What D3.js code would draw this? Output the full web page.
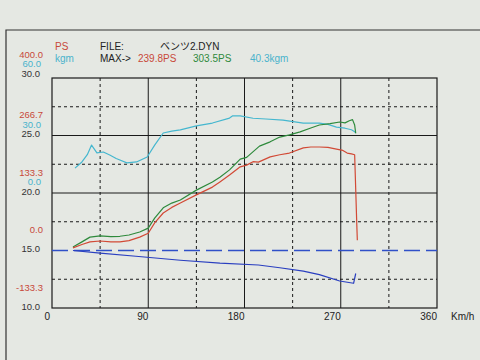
<!DOCTYPE html>
<html><head><meta charset="utf-8">
<script src="https://cdn.jsdelivr.net/npm/d3@7"></script>
<style>body{margin:0;background:#e5e8e3;}svg{display:block;font-family:"Liberation Sans",Arial,"Noto Sans CJK JP",sans-serif;}</style>
</head><body><div id="c"></div>
<script>
// ---- data ----
const psTicks = [400.0, 266.7, 133.3, 0.0, -133.3];
const kgmTicks = [60.0, 30.0, 0.0];
const afrTicks = [30.0, 25.0, 20.0, 15.0, 10.0];
const speedTicks = [0, 90, 180, 270, 360];
const dashedSpeed = [45, 135, 225, 315];
const dashedAfr = [27.5, 22.5, 17.5, 12.5];
const solidAfr = [25, 20];
const afrRef = 15.0;

// red: PS (wheel)
const redSpeed = [19.6, 28, 35.5, 45, 55, 63.5, 72, 82, 90, 96, 104, 112, 120, 135, 150, 157, 166, 176, 182, 188, 193, 204, 213, 222, 235, 242, 250, 258, 266, 272, 276, 280, 283, 285, 285.5];
const redPS    = [6, 14, 20, 22, 20, 20, 23, 31, 40, 64, 87, 100, 110, 129, 147, 159, 175, 194, 198, 206, 205, 217, 222, 226, 238, 240, 240, 239, 235, 232, 226, 224, 222, 60, 24];
// green: PS (engine)
const greenSpeed = [19.6, 28, 35.5, 45, 55, 63.5, 72, 82, 90, 96, 104, 112, 120, 135, 150, 157, 166, 176, 182, 194, 204, 213, 222, 232, 242, 250, 260, 269, 274, 278, 281, 283, 284];
const greenPS    = [8, 20, 31, 34, 32, 33, 36, 43, 52, 75, 99, 110, 117, 140, 159, 170, 187, 212, 216, 242, 252, 263, 268, 275, 284, 291, 294, 298, 296, 301, 303.5, 291, 272];
// cyan: torque kgm
const cyanSpeed = [21.5, 28, 33, 37, 42, 48, 54, 60, 63.5, 70, 79, 89, 96, 104, 112, 120, 135, 150, 166, 169, 176, 188, 200, 216, 235, 250, 258, 266, 274, 280, 283, 284];
const cyanKgm   = [13, 16.2, 20, 25, 20.9, 21.4, 19.8, 18, 17.2, 15.7, 16.2, 18.8, 25, 31.3, 32.3, 32.9, 35, 36.5, 39.1, 40.3, 40.2, 39, 38.6, 38, 36.5, 36.5, 35.8, 34.4, 33.8, 33, 32, 31.3];
// blue: air/fuel
const blueSpeed = [19.6, 45, 78.5, 120, 157, 193, 213, 235, 250, 269, 282, 284];
const blueAfr   = [15.0, 14.78, 14.5, 14.15, 13.9, 13.74, 13.5, 13.2, 12.9, 12.35, 12.15, 13.0];

// ---- chart ----
const W = 480, H = 360;
const svg = d3.select("#c").append("svg").attr("width", W).attr("height", H);
svg.append("rect").attr("width", W).attr("height", H).attr("fill", "#e5e8e3");

const x = d3.scaleLinear().domain([0, 360]).range([52, 437]);
const yPS = d3.scaleLinear().domain([-133.3, 400]).range([308, 78]);
const yKgm = d3.scaleLinear().domain([0, 60]).range([193, 78]);
const yAfr = d3.scaleLinear().domain([10, 30]).range([308, 78]);

// outer frame
svg.append("path").attr("d", `M6,${H} L6,30 L${W},30`).attr("fill", "none").attr("stroke", "#333").attr("stroke-width", 1.2);

const grid = svg.append("g").attr("stroke", "#1a1a1a").attr("fill", "none");
grid.selectAll(".dv").data(dashedSpeed).join("line")
  .attr("x1", d => x(d)).attr("x2", d => x(d)).attr("y1", yAfr(30)).attr("y2", yAfr(10))
  .attr("stroke-dasharray", "3,3").attr("stroke-width", 1);
grid.selectAll(".dh").data(dashedAfr).join("line")
  .attr("x1", x(0)).attr("x2", x(360)).attr("y1", d => yAfr(d)).attr("y2", d => yAfr(d))
  .attr("stroke-dasharray", "3,3").attr("stroke-width", 1);
grid.selectAll(".sv").data([90, 180, 270]).join("line")
  .attr("x1", d => x(d)).attr("x2", d => x(d)).attr("y1", yAfr(30)).attr("y2", yAfr(10)).attr("stroke-width", 1);
grid.selectAll(".sh").data(solidAfr).join("line")
  .attr("x1", x(0)).attr("x2", x(360)).attr("y1", d => yAfr(d)).attr("y2", d => yAfr(d)).attr("stroke-width", 1);
grid.append("rect").attr("x", x(0)).attr("y", yAfr(30)).attr("width", x(360) - x(0)).attr("height", yAfr(10) - yAfr(30)).attr("stroke-width", 1.2);

// reference dashed line (AFR 15)
svg.append("line").attr("x1", x(0)).attr("x2", x(360)).attr("y1", yAfr(afrRef)).attr("y2", yAfr(afrRef))
  .attr("stroke", "#3050c8").attr("stroke-width", 1.3).attr("stroke-dasharray", "16,6");

function drawLine(xs, ys, ysc, color) {
  const pts = xs.map((v, i) => [v, ys[i]]);
  svg.append("path").datum(pts)
    .attr("d", d3.line().x(d => x(d[0])).y(d => ysc(d[1])))
    .attr("fill", "none").attr("stroke", color).attr("stroke-width", 1.2).attr("stroke-linejoin", "round");
}
drawLine(cyanSpeed, cyanKgm, yKgm, "#45b7cf");
drawLine(greenSpeed, greenPS, yPS, "#2e8a3c");
drawLine(redSpeed, redPS, yPS, "#d24a36");
drawLine(blueSpeed, blueAfr, yAfr, "#2a3fc0");

// left axis labels (top stack sits above the frame line)
const lab = svg.append("g").attr("font-size", 9.5).attr("text-anchor", "end").attr("dominant-baseline", "central");
lab.selectAll(".ps").data(psTicks).join("text")
  .attr("x", 43).attr("y", (d, i) => yPS(d) - (i === 0 ? 24 : 21)).attr("fill", "#c8493a").text(d => d.toFixed(1));
lab.selectAll(".kg").data(kgmTicks).join("text")
  .attr("x", 41).attr("y", (d, i) => yKgm(d) - (i === 0 ? 14.5 : 11.5)).attr("fill", "#4ab3cc").text(d => d.toFixed(1));
lab.selectAll(".af").data(afrTicks).join("text")
  .attr("x", 40).attr("y", (d, i) => yAfr(d) - (i === 0 ? 5 : 2)).attr("fill", "#333").text(d => d.toFixed(1));

// x labels
svg.append("g").attr("font-size", 10).attr("text-anchor", "end").attr("fill", "#222")
  .selectAll("text").data(speedTicks).join("text")
  .attr("x", d => x(d) - (d === 0 ? 2 : 0)).attr("y", 320).text(d => d);
svg.append("text").attr("x", 451).attr("y", 320).attr("font-size", 10).attr("fill", "#222").text("Km/h");

// header
const hd = svg.append("g").attr("font-size", 10);
hd.append("text").attr("x", 55).attr("y", 50).attr("fill", "#c8493a").text("PS");
hd.append("text").attr("x", 55).attr("y", 62).attr("fill", "#4ab3cc").text("kgm");
hd.append("text").attr("x", 100).attr("y", 50).attr("fill", "#222").text("FILE:");
hd.append("text").attr("x", 160).attr("y", 50).attr("fill", "#222").text("ベンツ2.DYN");
hd.append("text").attr("x", 100).attr("y", 62).attr("fill", "#222").text("MAX->");
hd.append("text").attr("x", 138).attr("y", 62).attr("fill", "#c8493a").text("239.8PS");
hd.append("text").attr("x", 193).attr("y", 62).attr("fill", "#2e8a3c").text("303.5PS");
hd.append("text").attr("x", 250).attr("y", 62).attr("fill", "#4ab3cc").text("40.3kgm");
</script></body></html>
